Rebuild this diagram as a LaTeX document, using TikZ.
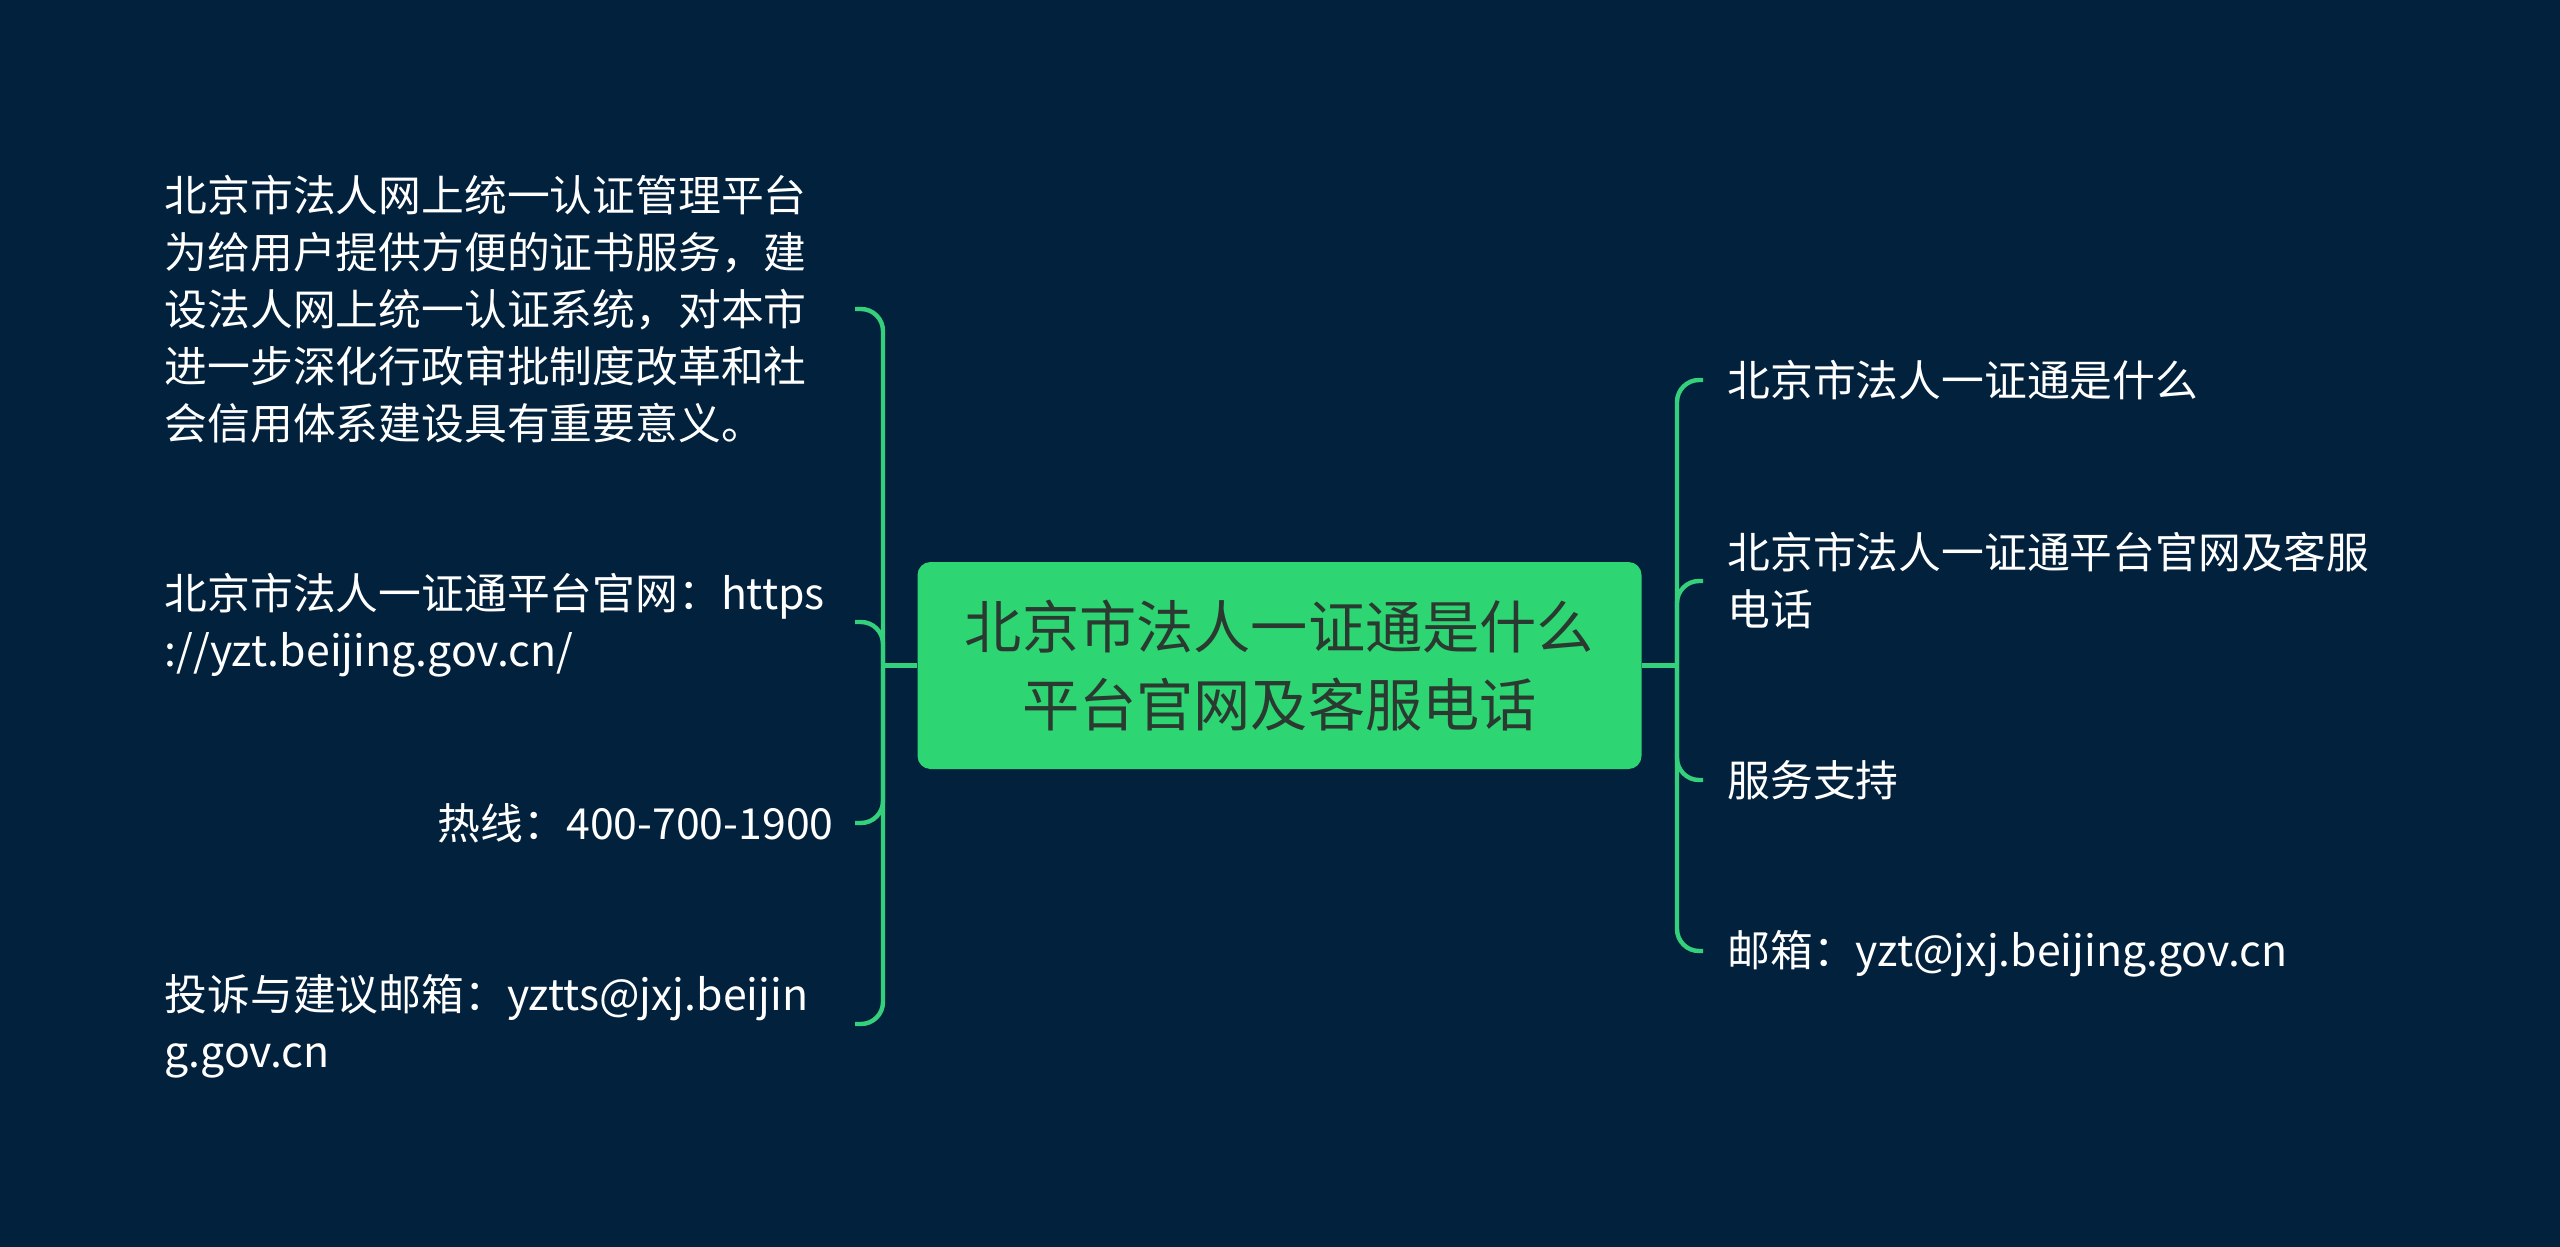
\documentclass[tikz,border=0pt]{standalone}
\usepackage{fontspec}
\setmainfont{Noto Sans CJK SC}
\definecolor{bg}{HTML}{02213D}
\definecolor{grn}{HTML}{2ED573}
\definecolor{lin}{HTML}{35D07B}
\definecolor{ctext}{HTML}{2A3A30}
\newcommand{\dfix}[1]{\raisebox{0pt}[\height][2.6pt]{#1}}
\begin{document}
\begin{tikzpicture}[x=0.5pt,y=-0.5pt,
  leafL/.style={text=white, font=\fontsize{21.4pt}{28.5pt}\selectfont, inner xsep=10.5pt, inner ysep=0pt, anchor=east, text width=334.5pt},
  leafR/.style={text=white, font=\fontsize{21.4pt}{28.5pt}\selectfont, inner xsep=12pt, inner ysep=0pt, anchor=west, align=left},
  rootbox/.style={fill=grn, rounded corners=6.5pt, minimum width=362pt, minimum height=103.5pt, text=ctext, align=center, font=\fontsize{28.6pt}{39pt}\selectfont, inner sep=0pt},
  conn/.style={draw=lin, line width=2.2pt, rounded corners=11pt}]
\fill[bg] (0,0) rectangle (2560,1247);
\useasboundingbox (0,0) rectangle (2560,1247);

\node[rootbox] (root) at (1279.5,665.5) {北京市法人一证通是什么\\平台官网及客服电话};

\node[leafL, align=left] (l1) at (855,309) {北京市法人网上统一认证管理平台\\为给用户提供方便的证书服务，建\\设法人网上统一认证系统，对本市\\进一步深化行政审批制度改革和社\\会信用体系建设具有重要意义。};
\node[leafL, align=left] (l2) at (855,622) {北京市法人一证通平台官网：https\\\dfix{://yzt.beijing.gov.cn/}};
\node[leafL, align=right] (l3) at (855,823) {热线：400-700-1900};
\node[leafL, align=left] (l4) at (855,1024) {投诉与建议邮箱：yztts@jxj.beijin\\\dfix{g.gov.cn}};

\node[leafR] (r1) at (1703,380) {北京市法人一证通是什么};
\node[leafR] (r2) at (1703,581) {北京市法人一证通平台官网及客服\\电话};
\node[leafR] (r3) at (1703,780) {服务支持};
\node[leafR] (r4) at (1703,951) {\dfix{邮箱：yzt@jxj.beijing.gov.cn}};

\coordinate (lj) at (883,665.5);
\coordinate (rj) at (1677,665.5);
\draw[conn] (root.west) -- (lj);
\draw[conn] (root.east) -- (rj);
\foreach \n in {l1,l2,l3,l4} \draw[conn] (lj) |- (\n.east);
\foreach \n in {r1,r2,r3,r4} \draw[conn] (rj) |- (\n.west);
\end{tikzpicture}
\end{document}
